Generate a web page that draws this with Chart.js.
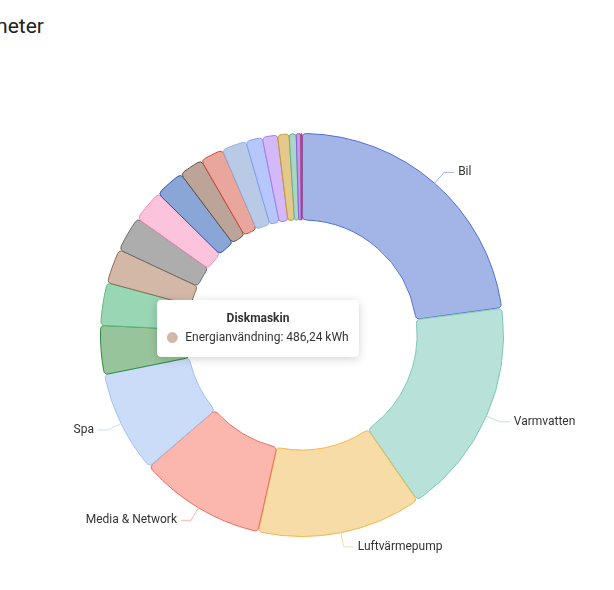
<html>
<head>
  <title></title>
  <style>
    body { margin: 0; background: #fff; font-family: Roboto, sans-serif; overflow: hidden; }
    #title { position: absolute; top: 14px; right: calc(100% - 44px); font-size: 21px; line-height: 24px; color: #212121; white-space: nowrap; }
    #wrap { position: absolute; left: 0; top: 0; width: 614px; height: 590px; }
  </style>
</head>
<body>
  <div id="title">Energimeter</div>
  <div id="wrap">
  <canvas id="myChart" width="614" height="590"></canvas>
</div>

<script src="https://cdn.jsdelivr.net/npm/chart.js"></script>

<script>
  // energianvändning per förbrukare, kWh
  const categories = ['Bil', 'Varmvatten', 'Luftvärmepump', 'Media & Network', 'Spa',
    'Golvvärme', 'Tvättmaskin', 'Diskmaskin', 'Torktumlare', 'Kyl & Frys', 'Spis & Ugn',
    'Ventilation', 'Belysning', 'Kontor', 'Garage', 'Frys', 'Mikrovågsugn', 'Kaffebryggare',
    'Router', 'Laddare']
  const energy = [4002, 3054, 2310, 1780, 1430, 686, 598, 486.24, 501, 447, 413, 340, 326,
    345, 233, 214, 160, 100, 63, 17]
  const fillColors = ['#a3b4e6', '#b8e1d9', '#f8dca7', '#fbb7ae', '#cbdcf8', '#98c49b',
    '#99d6b3', '#d3b8a8', '#adadad', '#fcc3dc', '#8aa6d6', '#bca598', '#e8a69c', '#b8cae6',
    '#b7c7fb', '#d3b9f7', '#e3c98b', '#a9d6c5', '#b8a0e8', '#e0608f']
  const lineColors = ['#4f6fd0', '#7dc9b7', '#f0b84b', '#f26b57', '#a4c2f3', '#2f8b3f',
    '#5cbb81', '#8b6a58', '#6e6e6e', '#f58ab8', '#2a56b1', '#6b5041', '#d0483b', '#95b0dc',
    '#7f9df5', '#a77af0', '#c9962b', '#67b094', '#8a5ee0', '#c0306a']
  const unit = 'kWh'
  const seriesName = 'Energianvändning'

  Chart.defaults.font.family = 'Roboto'

  Chart.Tooltip.positioners.fixedPos = function () {
    return { x: 258, y: 300 }
  }

  // etiketter med linjer utanför ringen
  const outsideLabels = {
    id: 'outsideLabels',
    afterDatasetsDraw(chart) {
      const c = chart.ctx
      const meta = chart.getDatasetMeta(0)
      meta.data.forEach((arc, i) => {
        if (arc.endAngle - arc.startAngle < 20 * Math.PI / 180) return
        const mid = (arc.startAngle + arc.endAngle) / 2
        const r = arc.outerRadius
        const cos = Math.cos(mid), sin = Math.sin(mid)
        const x1 = arc.x + cos * r, y1 = arc.y + sin * r
        const x2 = arc.x + cos * (r + 15), y2 = arc.y + sin * (r + 15)
        const dir = cos >= 0 ? 1 : -1
        const x3 = x2 + dir * 10
        c.save()
        c.strokeStyle = fillColors[i]
        c.lineWidth = 1
        c.beginPath()
        c.moveTo(x1, y1)
        c.lineTo(x2, y2)
        c.lineTo(x3, y2)
        c.stroke()
        c.fillStyle = '#333'
        c.font = '12px Roboto'
        c.textAlign = dir > 0 ? 'left' : 'right'
        c.textBaseline = 'middle'
        c.fillText(categories[i], x3 + dir * 4, y2)
        c.restore()
      })
    }
  }

  // skugga bakom tooltip
  const tooltipShadow = {
    id: 'tooltipShadow',
    beforeTooltipDraw(chart, args) {
      const t = args.tooltip
      if (!t.opacity) return
      const c = chart.ctx
      c.save()
      c.shadowColor = 'rgba(0,0,0,0.18)'
      c.shadowBlur = 10
      c.shadowOffsetY = 2
      c.fillStyle = '#fff'
      c.beginPath()
      c.roundRect(t.x, t.y, t.width, t.height, 4)
      c.fill()
      c.restore()
    }
  }

  const ctx = document.getElementById('myChart')
  const chart = new Chart(ctx, {
    type: 'doughnut',
    data: {
      labels: categories,
      datasets: [{
        label: seriesName,
        data: energy,
        backgroundColor: fillColors,
        borderColor: lineColors,
        hoverBackgroundColor: fillColors,
        hoverBorderColor: lineColors,
        borderWidth: 1,
        borderRadius: 4,
        spacing: 1,
        hoverOffset: 0
      }]
    },
    options: {
      responsive: false,
      animation: false,
      radius: 201,
      cutout: '57%',
      layout: { padding: { left: 0, right: 10, top: 80, bottom: 0 } },
      events: [],
      plugins: {
        legend: { display: false },
        tooltip: {
          position: 'fixedPos',
          xAlign: 'center',
          yAlign: 'top',
          caretSize: 0,
          caretPadding: 0,
          backgroundColor: '#fff',
          titleColor: '#333',
          bodyColor: '#333',
          titleAlign: 'center',
          titleFont: { family: 'Roboto', size: 12, weight: 'bold' },
          bodyFont: { family: 'Roboto', size: 12 },
          titleMarginBottom: 4,
          padding: { top: 12, bottom: 12, left: 10, right: 10 },
          cornerRadius: 4,
          usePointStyle: true,
          boxWidth: 10,
          boxHeight: 10,
          boxPadding: 6,
          callbacks: {
            label: item => `${seriesName}: ${item.raw.toFixed(2).replace('.', ',')} ${unit}`,
            labelPointStyle: () => ({ pointStyle: 'circle', rotation: 0 }),
            labelColor: item => ({
              borderColor: fillColors[item.dataIndex],
              backgroundColor: fillColors[item.dataIndex],
              borderWidth: 0
            })
          }
        }
      }
    },
    plugins: [outsideLabels, tooltipShadow]
  })

  chart.tooltip.setActiveElements([{ datasetIndex: 0, index: 7 }], { x: 258, y: 300 })
  chart.update()
</script>

</body>
</html>
